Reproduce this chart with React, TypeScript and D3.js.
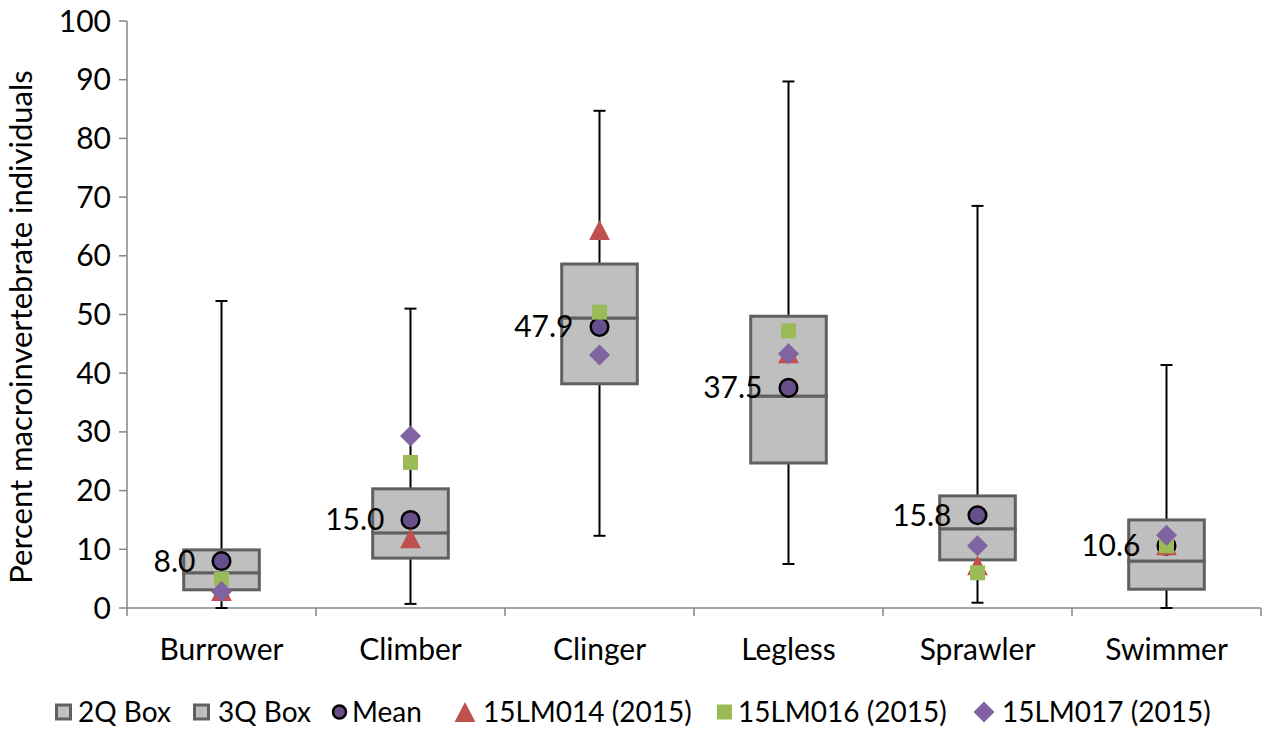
import React from "react";
import * as d3 from "d3";

const categories = ["Burrower", "Climber", "Clinger", "Legless", "Sprawler", "Swimmer"];
const whiskerMin = [0, 0.7, 12.3, 7.5, 0.9, 0];
const q1 = [3.1, 8.5, 38.2, 24.7, 8.2, 3.2];
const median = [6.0, 12.8, 49.4, 36.1, 13.5, 8.0];
const q3 = [9.9, 20.3, 58.6, 49.7, 19.1, 15.0];
const whiskerMax = [52.3, 51.0, 84.7, 89.7, 68.5, 41.4];
const means = [8.0, 15.0, 47.9, 37.5, 15.8, 10.6];
const site014 = [2.9, 11.9, 64.4, 43.4, 7.3, 10.7];
const site016 = [4.9, 24.8, 50.4, 47.2, 6.0, 10.6];
const site017 = [2.8, 29.3, 43.1, 43.3, 10.6, 12.4];
const yTicks = [0, 10, 20, 30, 40, 50, 60, 70, 80, 90, 100];
const legendLabels = ["2Q Box", "3Q Box", "Mean", "15LM014 (2015)", "15LM016 (2015)", "15LM017 (2015)"];

const FONT = "Lato, 'Open Sans', sans-serif";
const FS = 28;
const FS_AXIS = 30;
const BOX_FILL = "#BFBFBF";
const BOX_STROKE = "#606060";
const AXIS = "#868686";
const MEAN_FILL = "#674F8C";
const RED = "#C0504D";
const GREEN = "#9BBB59";
const PURPLE = "#8064A2";

const triPath = (cx: number, cy: number, s: number) =>
  `M${cx},${cy - s * 0.5}L${cx + s * 0.52},${cy + s * 0.5}L${cx - s * 0.52},${cy + s * 0.5}Z`;
const diaPath = (cx: number, cy: number, s: number) =>
  `M${cx},${cy - s / 2}L${cx + s / 2},${cy}L${cx},${cy + s / 2}L${cx - s / 2},${cy}Z`;

export default function App() {
  const left = 127, right = 1261, top = 21, bottom = 608;
  const x = d3.scaleBand<string>().domain(categories).range([left, right]).paddingInner(0).paddingOuter(0);
  const y = d3.scaleLinear().domain([0, 100]).range([bottom, top]);
  const bw = x.bandwidth();
  const boxW = bw * 0.4;
  const cap = 6;

  const legendX = [55, 193, 332, 455, 717, 973];
  const legendTextX = [78, 218, 352, 483, 738, 1002];
  const ly = 712;

  return (
    <svg width={1266} height={730} style={{ position: "absolute", left: 0, top: 0, background: "#fff" }} fontFamily={FONT}>
      {/* Y axis */}
      <line x1={left} x2={left} y1={top} y2={bottom} stroke={AXIS} strokeWidth={1.5} />
      {yTicks.map((t) => (
        <g key={t}>
          <line x1={left - 8} x2={left} y1={y(t)} y2={y(t)} stroke={AXIS} strokeWidth={1.5} />
          <text x={111} y={y(t)} dy="0.35em" textAnchor="end" fontSize={FS_AXIS} fill="#000">{t}</text>
        </g>
      ))}
      <text transform={`translate(32,327) rotate(-90)`} textAnchor="middle" fontSize={31} fill="#000">
        Percent macroinvertebrate individuals
      </text>
      {/* X axis */}
      <line x1={left} x2={right} y1={bottom} y2={bottom} stroke={AXIS} strokeWidth={1.5} />
      {categories.map((c, i) => (
        <line key={"xt" + i} x1={x(c)! + bw} x2={x(c)! + bw} y1={bottom} y2={bottom + 8} stroke={AXIS} strokeWidth={1.5} />
      ))}
      <line x1={left} x2={left} y1={bottom} y2={bottom + 8} stroke={AXIS} strokeWidth={1.5} />
      {categories.map((c) => (
        <text key={"xl" + c} x={x(c)! + bw / 2} y={660} textAnchor="middle" fontSize={FS_AXIS} fill="#000">{c}</text>
      ))}

      {/* whiskers */}
      {categories.map((c, i) => {
        const cx = x(c)! + bw / 2;
        return (
          <g key={"w" + c} stroke="#000" strokeWidth={2}>
            <line x1={cx} x2={cx} y1={y(q3[i])} y2={y(whiskerMax[i])} />
            <line x1={cx - cap} x2={cx + cap} y1={y(whiskerMax[i])} y2={y(whiskerMax[i])} />
            <line x1={cx} x2={cx} y1={y(q1[i])} y2={y(whiskerMin[i])} />
            <line x1={cx - cap} x2={cx + cap} y1={y(whiskerMin[i])} y2={y(whiskerMin[i])} />
          </g>
        );
      })}
      {/* boxes */}
      {categories.map((c, i) => {
        const cx = x(c)! + bw / 2;
        return (
          <g key={"b" + c} fill={BOX_FILL} stroke={BOX_STROKE} strokeWidth={3}>
            <rect x={cx - boxW / 2} y={y(median[i])} width={boxW} height={y(q1[i]) - y(median[i])} />
            <rect x={cx - boxW / 2} y={y(q3[i])} width={boxW} height={y(median[i]) - y(q3[i])} />
          </g>
        );
      })}
      {/* means */}
      {categories.map((c, i) => {
        const cx = x(c)! + bw / 2;
        return (
          <g key={"m" + c}>
            <circle cx={cx} cy={y(means[i])} r={8.8} fill={MEAN_FILL} stroke="#000" strokeWidth={2.5} />
            <text x={cx - 26} y={y(means[i])} dy="0.35em" textAnchor="end" fontSize={FS_AXIS} fill="#000">{means[i].toFixed(1)}</text>
          </g>
        );
      })}
      {categories.map((c, i) => (
        <path key={"t" + c} d={triPath(x(c)! + bw / 2, y(site014[i]), 20)} fill={RED} />
      ))}
      {categories.map((c, i) => (
        <rect key={"s" + c} x={x(c)! + bw / 2 - 7.5} y={y(site016[i]) - 7.5} width={15} height={15} fill={GREEN} />
      ))}
      {categories.map((c, i) => (
        <path key={"d" + c} d={diaPath(x(c)! + bw / 2, y(site017[i]), 21)} fill={PURPLE} />
      ))}

      {/* legend */}
      <g>
        <rect x={legendX[0] + 1.5} y={ly - 7} width={14} height={14} fill={BOX_FILL} stroke={BOX_STROKE} strokeWidth={3} />
        <rect x={legendX[1] + 1.5} y={ly - 7} width={14} height={14} fill={BOX_FILL} stroke={BOX_STROKE} strokeWidth={3} />
        <circle cx={legendX[2] + 7.5} cy={ly} r={6.5} fill={MEAN_FILL} stroke="#000" strokeWidth={2.5} />
        <path d={triPath(legendX[3] + 10, ly, 20)} fill={RED} />
        <rect x={legendX[4]} y={ly - 7.5} width={15} height={15} fill={GREEN} />
        <path d={diaPath(legendX[5] + 11, ly, 21)} fill={PURPLE} />
        {legendLabels.map((l, i) => (
          <text key={l} x={legendTextX[i]} y={722} fontSize={FS} fill="#000">{l}</text>
        ))}
      </g>
    </svg>
  );
}
